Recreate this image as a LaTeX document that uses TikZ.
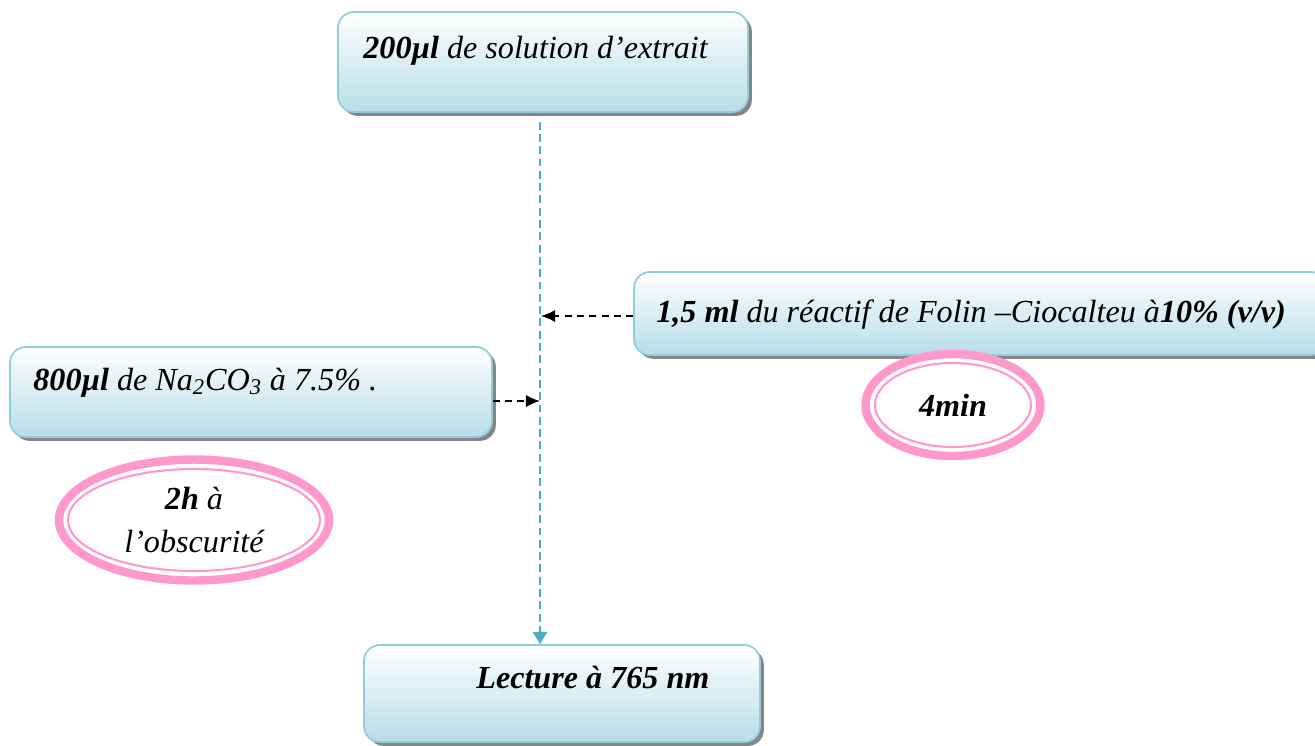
\documentclass[tikz,border=0pt]{standalone}
\usepackage{fontspec}
\setmainfont{Liberation Serif}
\usetikzlibrary{arrows.meta,shadows,shapes.geometric}
\definecolor{boxblue}{RGB}{183,221,232}
\definecolor{boxline}{RGB}{146,205,220}
\definecolor{flowblue}{RGB}{75,172,198}
\definecolor{ringpink}{RGB}{255,153,204}

\begin{document}
\begin{tikzpicture}[x=0.02cm, y=-0.02cm,
stepbox/.style={rectangle, rounded corners=9pt, draw=boxline, line width=1pt, top color=white, bottom color=boxblue, drop shadow={shadow xshift=2.2pt, shadow yshift=-2.2pt, fill=black!60, opacity=0.8}},
steptext/.style={anchor=base west, inner sep=0pt, font=\fontsize{18.3}{22}\selectfont\itshape},
ringnode/.style={ellipse, draw=ringpink, line width=4.8pt, fill=white, font=\fontsize{18.3}{24}\selectfont\itshape, align=center},
innerring/.style={draw=ringpink, line width=1.2pt},
flowline/.style={draw=flowblue, line width=1.2pt, dash pattern=on 4.5pt off 2.5pt, -{Triangle[width=8pt,length=7pt]}},
addline/.style={draw=black, line width=1pt, dash pattern=on 4pt off 3pt, -{Latex[length=8pt,width=7pt]}},
]
\useasboundingbox (0,0) rectangle (1315,745);

%Boxes
\node[stepbox, minimum width=8.2cm, minimum height=2cm]     (extrait)   at (543,62)    {};
\node[stepbox, minimum width=13.86cm, minimum height=1.66cm] (folin)    at (980.5,313.5) {};
\node[stepbox, minimum width=9.64cm, minimum height=1.8cm]  (carbonate) at (251,392)   {};
\node[stepbox, minimum width=7.92cm, minimum height=1.94cm] (lecture)   at (562,693.5) {};

%Texts
\node[steptext] (extrait-t)   at (363,58)  {\textbf{200µl} de solution d’extrait};
\node[steptext] (folin-t)     at (656,322) {\textbf{1,5 ml} du réactif de Folin –Ciocalteu à\textbf{10\% (v/v)}};
\node[steptext] (carbonate-t) at (33,390)  {\textbf{800µl} de Na\textsubscript{2}CO\textsubscript{3} à 7.5\% .};
\node[steptext] (lecture-t)   at (476,688) {\textbf{Lecture à 765 nm}};

%Lines
\coordinate (jfolin) at (541,316);
\coordinate (jcarb)  at (540,401);
\draw[flowline, shorten <=5pt] (extrait.south -| jcarb) -- (lecture.north -| jcarb);
\draw[addline] (folin.west |- jfolin) -- (jfolin);
\draw[addline] (carbonate.east |- jcarb) -- (jcarb);

%Times
\node[ringnode, minimum width=3.5cm, minimum height=2.04cm] (quatre) at (953,405) {\textbf{4min}};
\draw[innerring] (quatre.center) ellipse [x radius=78, y radius=42];
\node[ringnode, minimum width=5.4cm, minimum height=2.42cm] (obscur) at (194,520) {\textbf{2h} à\hspace{0.4em}\\ l’obscurité};
\draw[innerring] (obscur.center) ellipse [x radius=126, y radius=51];
\end{tikzpicture}
\end{document}
